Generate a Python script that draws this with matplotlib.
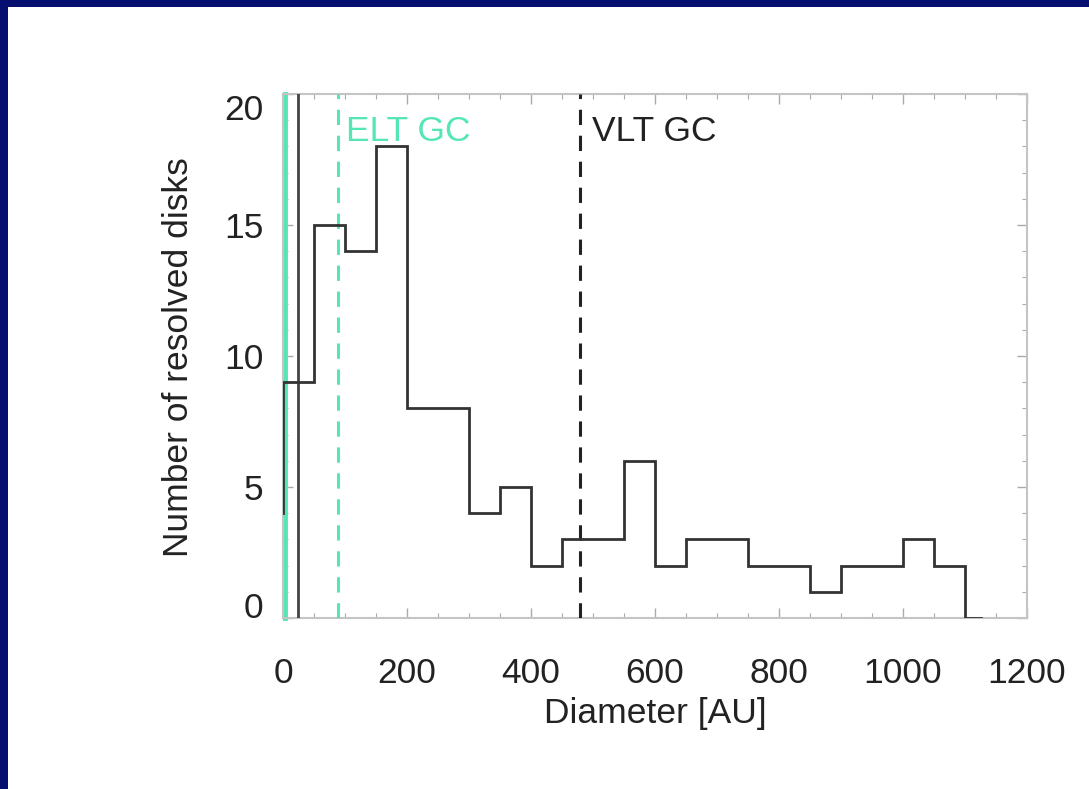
import matplotlib
matplotlib.use("Agg")
import matplotlib.pyplot as plt
from matplotlib.patches import Rectangle
from matplotlib.ticker import MultipleLocator

plt.rcParams['font.family'] = ['Liberation Sans', 'DejaVu Sans']

# histogram of resolved disk diameters (50 AU bins)
bin_edges = list(range(0, 1101, 50))
counts = [9, 15, 14, 18, 8, 8, 4, 5, 2, 3, 3, 6, 2, 3, 3, 2, 2, 1, 2, 2, 3, 2]
start_value = 4      # line starts at x=0 from this level
tail_end = 1125      # short run at zero after the last bin

# vertical marker lines [AU]
elt_solid_x = 3
vlt_solid_x = 24
elt_gc_x = 89
vlt_gc_x = 479

navy = '#060f70'
teal = '#55e6b6'
ink = '#222222'
frame_gray = '#c4c4c4'

fig = plt.figure(figsize=(10.89, 7.89), dpi=100)
fig.patch.set_facecolor('white')
fig.patches.append(Rectangle((0, 1 - 7 / 789), 1, 7 / 789, transform=fig.transFigure,
                             facecolor=navy, edgecolor='none'))
fig.patches.append(Rectangle((0, 0), 8 / 1089, 1, transform=fig.transFigure,
                             facecolor=navy, edgecolor='none'))

ax = fig.add_axes([283 / 1089, 1 - 618 / 789, 744 / 1089, 524 / 789])

# step line
xs = [0]
ys = [start_value]
for i, c in enumerate(counts):
    xs += [bin_edges[i], bin_edges[i + 1]]
    ys += [c, c]
xs += [bin_edges[-1], tail_end]
ys += [0, 0]

ax.axvline(elt_solid_x, color=teal, lw=3.5, clip_on=False, zorder=2)
ax.axvline(vlt_solid_x, color='#444444', lw=2.0, zorder=3)
ax.axvline(elt_gc_x, color=teal, lw=2.2, ls=(0, (5, 3.5)), zorder=3)
ax.axvline(vlt_gc_x, color='#222222', lw=2.2, ls=(0, (5, 3.5)), zorder=3)
ax.plot(xs, ys, color='#333333', lw=2.0, zorder=4, solid_joinstyle='miter')

ax.text(elt_gc_x + 12, 18.2, 'ELT GC', color=teal, fontsize=25.5, va='baseline')
ax.text(vlt_gc_x + 19, 18.2, 'VLT GC', color=ink, fontsize=25.5, va='baseline')

ax.set_xlim(0, 1200)
ax.set_ylim(0, 20)
ax.xaxis.set_major_locator(MultipleLocator(200))
ax.xaxis.set_minor_locator(MultipleLocator(50))
ax.yaxis.set_major_locator(MultipleLocator(5))
ax.yaxis.set_minor_locator(MultipleLocator(1))

for s in ax.spines.values():
    s.set_color(frame_gray)
    s.set_linewidth(1.5)

ax.tick_params(which='both', direction='in', top=True, right=True,
               color='#aaaaaa', labelcolor=ink, labelsize=25.5)
ax.tick_params(which='major', length=7, width=1.0)
ax.tick_params(which='minor', length=3.5, width=0.8)
ax.tick_params(axis='x', pad=28)
ax.tick_params(axis='y', pad=14)

fig.canvas.draw()
for lab in ax.get_yticklabels():
    if lab.get_text() == '20':
        lab.set_va('top')
    elif lab.get_text() == '0':
        lab.set_va('baseline')

ax.set_xlabel('Diameter [AU]', fontsize=25.5, color=ink)
ax.set_ylabel('Number of resolved disks', fontsize=25.5, color=ink)
ax.xaxis.set_label_coords((655 - 283) / 744, (618 - 714) / 524)
ax.xaxis.label.set_va('center')
ax.yaxis.set_label_coords((178 - 283) / 744, (618 - 357) / 524)
ax.yaxis.label.set_va('center')

fig.savefig('out.png', dpi=100)
